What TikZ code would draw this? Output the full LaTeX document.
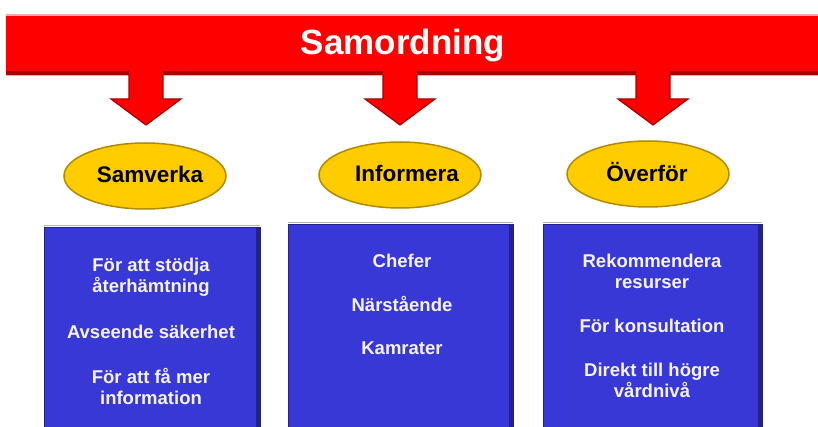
\documentclass[tikz,border=0pt]{standalone}
\usepackage{fontspec}
\setmainfont{Liberation Sans}
\usetikzlibrary{shapes.geometric}
\definecolor{barred}{HTML}{FF0000}
\definecolor{darkred}{HTML}{A80000}
\definecolor{boxblue}{HTML}{3838D6}
\definecolor{boxedge}{HTML}{22228A}
\definecolor{gold}{HTML}{FFCC00}
\definecolor{goldedge}{HTML}{B08A00}
\definecolor{boxtext}{HTML}{F6F2FF}
\tikzset{
  oval/.style={ellipse, minimum width=162pt, minimum height=66pt, inner sep=0pt,
    fill=gold, draw=goldedge, line width=1.5pt,
    font=\bfseries\fontsize{22.5}{26}\selectfont, text=black},
  panel/.style={fill=boxblue, draw=boxedge, line width=0.8pt},
  ptext/.style={align=center, text=boxtext, font=\bfseries\fontsize{18.5}{21}\selectfont, inner sep=0pt},
  barrow/.style={draw=darkred, line width=1.2pt, line join=miter}
}
\begin{document}
\begin{tikzpicture}[x=1pt,y=-1pt]
\useasboundingbox (0,0) rectangle (818,427);
\clip (0,0) rectangle (818,427);
% top bar
\fill[red!35] (6,14) rectangle (830,76);
\fill[barred] (6,16) rectangle (830,71);
\fill[darkred] (6,71) rectangle (830,75);
\node[font=\bfseries\fontsize{35}{40}\selectfont, text=white, inner sep=0pt] (bar) at (403,46) {Samordning};
% arrows
\foreach \cx/\nm in {146/a1, 400/a2, 653/a3}{
  \coordinate (\nm) at (\cx,75);
  \fill[barred] ([xshift=-17pt,yshift=5pt]\nm) -- ([xshift=-17pt,yshift=-24pt]\nm) -- ([xshift=-35pt,yshift=-24pt]\nm)
     -- ([yshift=-50pt]\nm) -- ([xshift=35pt,yshift=-24pt]\nm) -- ([xshift=17pt,yshift=-24pt]\nm) -- ([xshift=17pt,yshift=5pt]\nm) -- cycle;
  \draw[barrow] ([xshift=-17pt]\nm) -- ([xshift=-17pt,yshift=-24pt]\nm) -- ([xshift=-35pt,yshift=-24pt]\nm)
     -- ([yshift=-50pt]\nm) -- ([xshift=35pt,yshift=-24pt]\nm) -- ([xshift=17pt,yshift=-24pt]\nm) -- ([xshift=17pt]\nm);
}
% ovals
\node[oval] (o1) at (145,176) {};
\node[oval] (o2) at (400,175) {};
\node[oval] (o3) at (648,174) {};
\node[font=\bfseries\fontsize{22.5}{26}\selectfont] (t1) at (150,174) {Samverka};
\node[font=\bfseries\fontsize{22.5}{26}\selectfont] (t2) at (407,173) {Informera};
\node[font=\bfseries\fontsize{22.5}{26}\selectfont] (t3) at (647,172) {Överför};
% panels
\draw[gray!60, line width=1pt] (44,226) -- (260,226);
\draw[gray!60, line width=1pt] (288,223) -- (513,223);
\draw[gray!60, line width=1pt] (543,223) -- (762,223);
\filldraw[panel] (44,227) rectangle (260,440);
\filldraw[panel] (288,224) rectangle (513,440);
\filldraw[panel] (543,224) rectangle (762,440);
\fill[boxedge] (256,227) rectangle (260,440);
\fill[boxedge] (509,224) rectangle (513,440);
\fill[boxedge] (758,224) rectangle (762,440);
% panel 1 text
\node[ptext] (p11) at (151,277) {För att stödja\\återhämtning};
\node[ptext] (p12) at (151,332) {Avseende säkerhet};
\node[ptext] (p13) at (151,386) {För att få mer\\information};
% panel 2 text
\node[ptext] (p21) at (402,261) {Chefer};
\node[ptext] (p22) at (402,304) {Närstående};
\node[ptext] (p23) at (402,348) {Kamrater};
% panel 3 text
\node[ptext] (p31) at (652,271) {Rekommendera\\resurser};
\node[ptext] (p32) at (652,326) {För konsultation};
\node[ptext] (p33) at (652,380) {Direkt till högre\\vårdnivå};
\end{tikzpicture}
\end{document}
